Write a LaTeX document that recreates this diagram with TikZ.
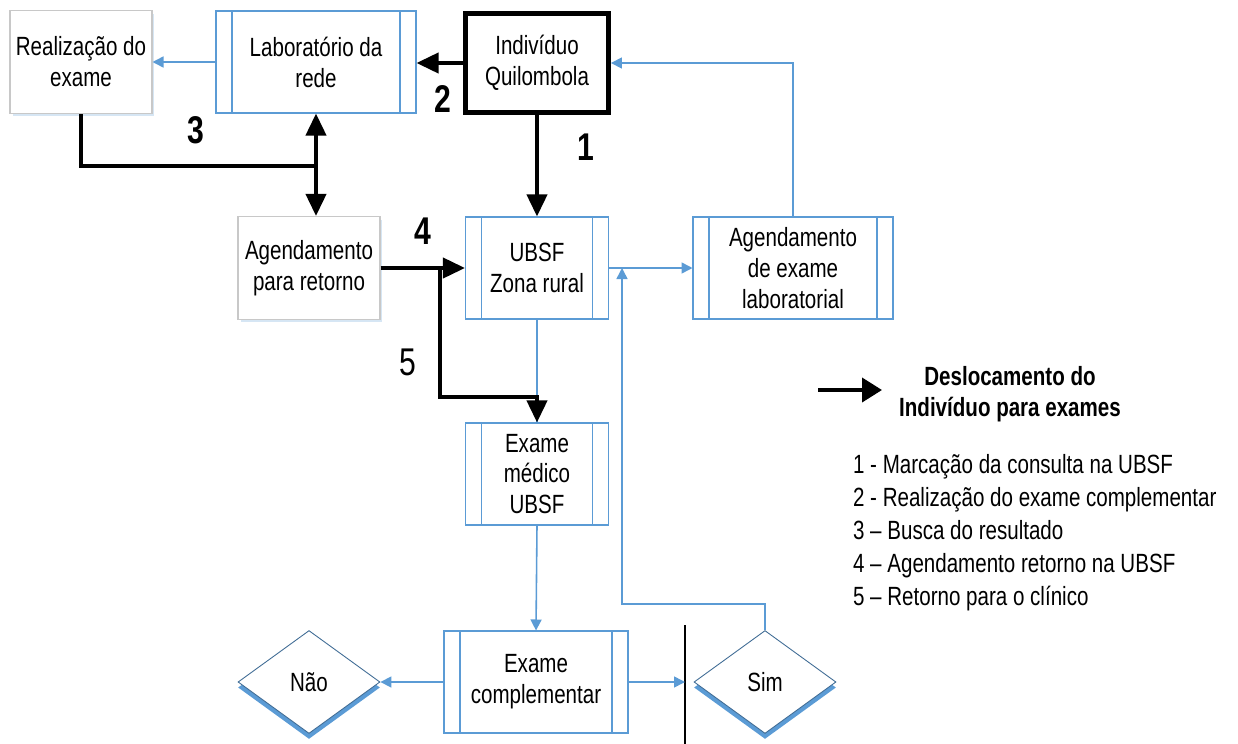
\documentclass[tikz,border=0pt]{standalone}
\usepackage{fontspec}
\setmainfont{Liberation Sans}[FakeStretch=0.78]
\usetikzlibrary{positioning,arrows.meta,shapes.geometric,shadows}
\definecolor{blueline}{RGB}{91,155,213}
\definecolor{boxgray}{RGB}{200,200,200}

\begin{document}
\begin{tikzpicture}[x=0.02cm, y=-0.02cm,
    every node/.style={font=\fontsize{15}{17.6}\selectfont, align=center, inner sep=1pt},
    procbox/.style={draw=blueline, fill=white, line width=0.6pt, minimum height=2.04cm,
      path picture={
        \draw[blueline, line width=0.6pt] ([xshift=0.32cm]path picture bounding box.north west) -- ([xshift=0.32cm]path picture bounding box.south west);
        \draw[blueline, line width=0.6pt] ([xshift=-0.32cm]path picture bounding box.north east) -- ([xshift=-0.32cm]path picture bounding box.south east);}},
    graybox/.style={draw=boxgray, fill=white, line width=0.6pt, minimum width=2.84cm, minimum height=2.06cm,
      drop shadow={shadow xshift=0.05cm, shadow yshift=-0.06cm, fill=blueline!25, opacity=1}},
    thickbox/.style={draw, line width=2.8pt, minimum width=2.86cm, minimum height=1.98cm},
    decision/.style={diamond, draw=blueline!70!black, fill=white, line width=0.5pt, inner sep=0pt,
      minimum width=2.84cm, minimum height=2.06cm,
      drop shadow={shadow xshift=0cm, shadow yshift=-0.11cm, fill=blueline, opacity=1}},
    flow/.style={draw=blueline, line width=0.9pt, -{Triangle[length=0.22cm,width=0.22cm]}},
    move/.style={line width=2.2pt, -{Triangle[length=0.44cm,width=0.4cm]}},
    bignum/.style={font=\fontsize{22}{22}\selectfont\bfseries}]
    \useasboundingbox (0,0) rectangle (1238,744);

    % boxes
    \node[graybox] (real) at (81,62) {Realização do\\exame};
    \node[procbox, minimum width=4cm] (lab) at (316,62) {Laboratório da\\rede};
    \node[thickbox] (ind) at (537,63) {Indivíduo\\Quilombola};
    \node[graybox] (agret) at (309,268) {Agendamento\\para retorno};
    \node[procbox, minimum width=2.86cm] (ubsf) at (537,268) {UBSF\\Zona rural};
    \node[procbox, minimum width=4cm] (agex) at (793,268) {Agendamento\\de exame\\laboratorial};
    \node[procbox, minimum width=2.86cm] (medico) at (537,474) {Exame\\médico\\UBSF};
    \node[procbox, minimum width=3.68cm] (comp) at (536,682) {Exame\\complementar};
    \node[decision] (nao) at (309,682) {Não};
    \node[decision] (sim) at (765,682) {Sim};

    \coordinate (bartop) at (685,625);
    \coordinate (barbot) at (685,744);
    \draw[line width=0.7pt] (bartop) -- (barbot);

    % blue flow
    \coordinate (turnsim) at (622,604);
    \coordinate (retsim) at (622,268);
    \draw[flow] (lab.west) -- (real.east);
    \draw[flow] (ubsf.east) -- (agex.west);
    \draw[flow] (agex.north) |- (ind.east);
    \draw[draw=blueline, line width=0.9pt] (ubsf.south) -- (medico.north);
    \draw[flow] (medico.south) -- (comp.north);
    \draw[flow] (comp.west) -- (nao.east);
    \draw[flow] (comp.east) -- (comp.east -| bartop);
    \draw[flow] (sim.north) |- (turnsim) -- (retsim);

    % black moves
    \coordinate (turn3) at (316,166);
    \coordinate (b5) at (440,268);
    \coordinate (turn5) at (537,397);
    \draw[move] (ind.south) -- (ubsf.north);
    \draw[move] (ind.west) -- (ind.west -| lab.east);
    \draw[line width=2.2pt] (real.south) |- (turn3);
    \draw[move, {Triangle[length=0.44cm,width=0.4cm]}-{Triangle[length=0.44cm,width=0.4cm]}] (lab.south) -- (lab.south |- agret.north);
    \draw[move] (agret.east) -- (ubsf.west);
    \draw[move] (b5) |- (turn5) -- (medico.north);

    \node[bignum] (n1) at (586,147) {1};
    \node[bignum] (n2) at (443,99) {2};
    \node[bignum] (n3) at (196,130) {3};
    \node[bignum] (n4) at (423,231) {4};
    \node[font=\fontsize{22}{22}\selectfont] (n5) at (408,362) {5};

    % legend
    \coordinate (legA) at (818,390);
    \coordinate (legB) at (882,390);
    \draw[line width=2.2pt, -{Triangle[length=0.4cm,width=0.48cm]}] (legA) -- (legB);
    \node[font=\fontsize{15}{17.5}\selectfont\bfseries] (legtitle) at (1010,394) {Deslocamento do\\Indivíduo para exames};
    \node[anchor=west, align=left, font=\fontsize{15}{18.8}\selectfont] (leglist) at (851,533)
      {1 - Marcação da consulta na UBSF\\2 - Realização do exame complementar\\3 – Busca do resultado\\4 – Agendamento retorno na UBSF\\5 – Retorno para o clínico};
\end{tikzpicture}
\end{document}
